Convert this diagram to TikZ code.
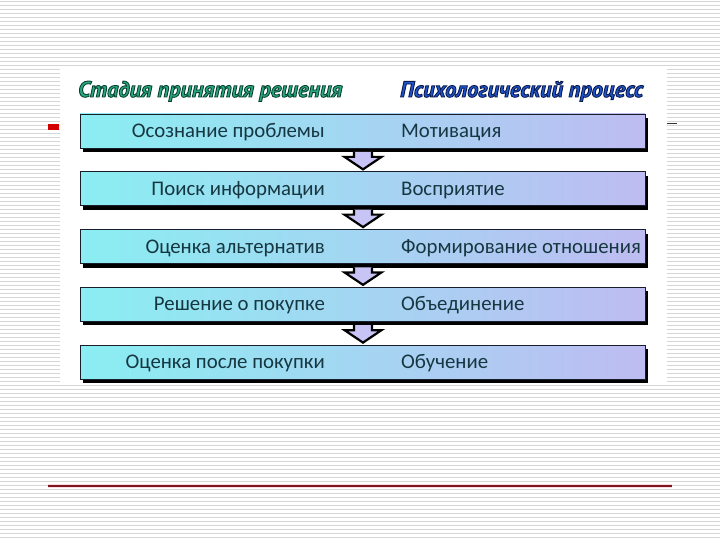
\documentclass[tikz,border=0pt]{standalone}
\usepackage{fontspec}
\setmainfont{Carlito}
\newfontface\headface[FakeBold=4]{PT Sans Bold Italic}
\usetikzlibrary{calc}
\definecolor{stripecol}{RGB}{214,214,214}
\definecolor{barL}{RGB}{138,238,242}
\definecolor{barR}{RGB}{190,188,242}
\definecolor{barline}{RGB}{25,30,45}
\definecolor{txtcol}{RGB}{22,55,65}
\definecolor{arrowcol}{RGB}{200,196,246}
\definecolor{bulletred}{RGB}{210,0,0}
\definecolor{maroonline}{RGB}{130,20,30}
\definecolor{haloline}{RGB}{248,222,226}
\definecolor{hgreen}{RGB}{40,170,125}
\definecolor{hblue}{RGB}{30,85,205}
\newcommand\HeadText[3]{{\color{#1}\special{pdf:code #2 RG}#3}}
\tikzset{
  stripeline/.style={draw=stripecol, line width=1.5pt},
  bar/.style={minimum width=565pt, minimum height=34pt, inner sep=0pt,
    draw=barline, line width=0.8pt, left color=barL, right color=barR,
    preaction={fill=black, transform canvas={shift={(3pt,-4pt)}}}},
  lab/.style={inner sep=0pt, text=txtcol, font=\fontsize{20.8}{24}\selectfont},
  head/.style={inner sep=0pt, font=\fontsize{22.4}{26}\headface},
  arrowfill/.style={fill=arrowcol},
  arrowline/.style={draw=black, line width=2.2pt, line join=miter}
}
\begin{document}
\begin{tikzpicture}[x=1pt,y=-1pt]
\useasboundingbox (0,0) rectangle (720,540);
\fill[white] (0,0) rectangle (720,540);
\foreach \i in {0,...,134} \draw[stripeline] (0,{4*\i+1.5}) -- (720,{4*\i+1.5});
% slide decorations
\fill[bulletred] (48,124) rectangle (59,130);
\draw[line width=1pt, black!80] (667,124) -- (677,124);
\draw[line width=4pt, haloline] (48,486) -- (672,486);
\draw[line width=1.2pt, maroonline] (48,486) -- (672,486);
% picture
\fill[white] (60,66) rectangle (667,384);
\node[head, anchor=base west] (h1) at (78,97) {\HeadText{hgreen}{0.04 0.25 0.2}{Стадия принятия решения}};
\node[head, anchor=base west] (h2) at (400,97) {\HeadText{hblue}{0.04 0.1 0.3}{Психологический процесс}};
\foreach \i/\a/\b in {1/Осознание проблемы/Мотивация,
                      2/Поиск информации/Восприятие,
                      3/Оценка альтернатив/Формирование отношения,
                      4/Решение о покупке/Объединение,
                      5/Оценка после покупки/Обучение}{
  \node[bar] (b\i) at (362.5,{131+57.75*(\i-1)}) {};
  \node[lab, anchor=base east] (l\i) at ($(b\i.center)+(-37.5,6.5)$) {\a};
  \node[lab, anchor=base west] (r\i) at ($(b\i.center)+(38.5,6.5)$) {\b};
}
\foreach \i/\j in {1/2,2/3,3/4,4/5}{
  \coordinate (t\i) at ($(b\i.south)+(0.5,3.5)$);
  \coordinate (p\i) at ($(b\j.north)+(0.5,-2)$);
  \fill[arrowfill] ($(t\i)+(-9,0)$) -- ($(t\i)+(-9,5)$) -- ($(t\i)+(-18.5,5)$) -- (p\i) -- ($(t\i)+(18.5,5)$) -- ($(t\i)+(9,5)$) -- ($(t\i)+(9,0)$) -- cycle;
  \draw[arrowline] ($(t\i)+(-9,0)$) -- ($(t\i)+(-9,5)$) -- ($(t\i)+(-18.5,5)$) -- (p\i) -- ($(t\i)+(18.5,5)$) -- ($(t\i)+(9,5)$) -- ($(t\i)+(9,0)$);
}
\end{tikzpicture}
\end{document}
